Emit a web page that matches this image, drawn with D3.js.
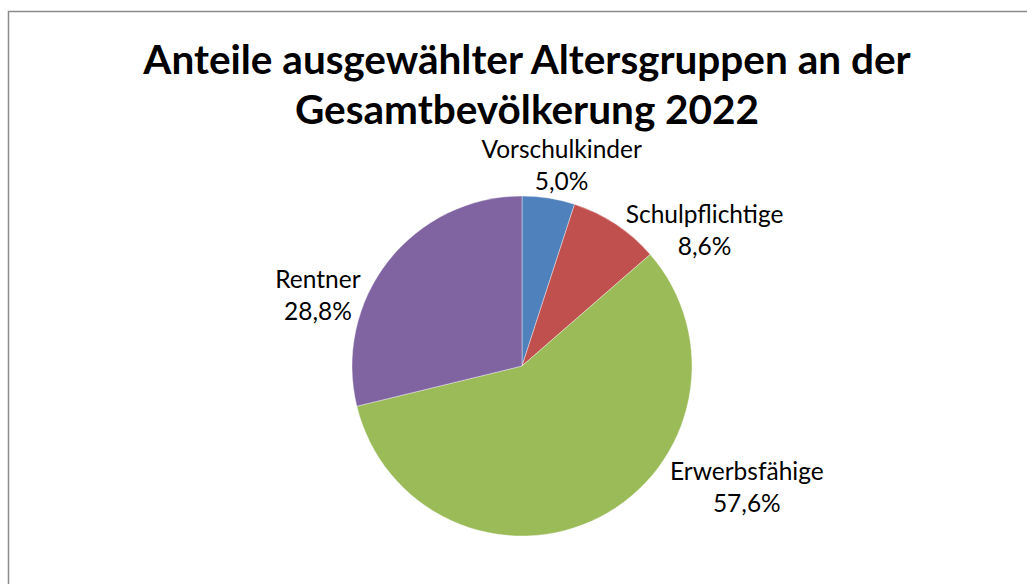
<!DOCTYPE html>
<html>
<head>
<meta charset="utf-8">
<script src="https://cdn.jsdelivr.net/npm/d3@7"></script>
<style>
  body { margin: 0; background: #fff; }
  svg { display: block; }
  .title { font-family: Lato, "DejaVu Sans", sans-serif; font-weight: bold; fill: #000; }
  .label { font-family: Lato, "DejaVu Sans", sans-serif; fill: #000; }
</style>
</head>
<body>
<div id="chart"></div>
<script>
// Data
var categories = ["Vorschulkinder", "Schulpflichtige", "Erwerbsfähige", "Rentner"];
var values = [5.0, 8.6, 57.6, 28.8];
var titleLines = ["Anteile ausgewählter Altersgruppen an der", "Gesamtbevölkerung 2022"];

// Colours (Office 2007 palette)
var colors = ["#4F81BD", "#C0504D", "#9BBB59", "#8064A2"];

// Label shifts away from the plain mid-angle position (Excel "best fit")
var labelNudge = [[6, 10], [64, 42], [126, -71], [-35, 61]];

// Set sizes
var width = 1027,
    height = 584,
    cx = 522,
    cy = 366,
    radius = 170,
    labelRadius = 215;

var svg = d3.select("#chart")
  .append("svg")
    .attr("width", width)
    .attr("height", height);

// chart frame (runs past the right and bottom edge)
svg.append("rect")
  .attr("x", 8.5)
  .attr("y", 11.5)
  .attr("width", width + 20)
  .attr("height", height + 20)
  .attr("fill", "none")
  .attr("stroke", "#8a8a8a")
  .attr("stroke-width", 1.5);

// Title
svg.append("text")
  .attr("class", "title")
  .attr("text-anchor", "middle")
  .style("font-size", "40.5px")
  .selectAll("tspan")
  .data(titleLines)
  .enter().append("tspan")
    .attr("x", 527)
    .attr("y", function(d, i) { return 74 + i * 50; })
    .text(function(d) { return d; });

var data = categories.map(function(c, i) { return { name: c, value: values[i], color: colors[i] }; });

var pie = d3.pie()
  .sort(null)
  .value(function(d) { return d.value; });

var arc = d3.arc()
  .innerRadius(0)
  .outerRadius(radius);

var g = svg.append("g")
  .attr("transform", "translate(" + cx + "," + cy + ")");

var arcs = pie(data);

g.selectAll("path")
  .data(arcs)
  .enter().append("path")
    .attr("d", arc)
    .attr("fill", function(d) { return d.data.color; })
    .attr("stroke", "#ffffff")
    .attr("stroke-opacity", 0.5)
    .attr("stroke-width", 0.75);

// Data labels
var fmt = function(v) { return v.toFixed(1).replace(".", ",") + "%"; };

var labels = g.selectAll("text.label")
  .data(arcs)
  .enter().append("text")
    .attr("class", "label")
    .attr("text-anchor", "middle")
    .style("font-size", "24.5px")
    .attr("transform", function(d, i) {
      var a = (d.startAngle + d.endAngle) / 2;
      var x = Math.sin(a) * labelRadius + labelNudge[i][0];
      var y = -Math.cos(a) * labelRadius - 6 + labelNudge[i][1];
      return "translate(" + x + "," + y + ")";
    });

labels.append("tspan")
  .attr("x", 0)
  .attr("y", 0)
  .text(function(d) { return d.data.name; });

labels.append("tspan")
  .attr("x", 0)
  .attr("y", 32)
  .text(function(d) { return fmt(d.data.value); });
</script>
</body>
</html>
